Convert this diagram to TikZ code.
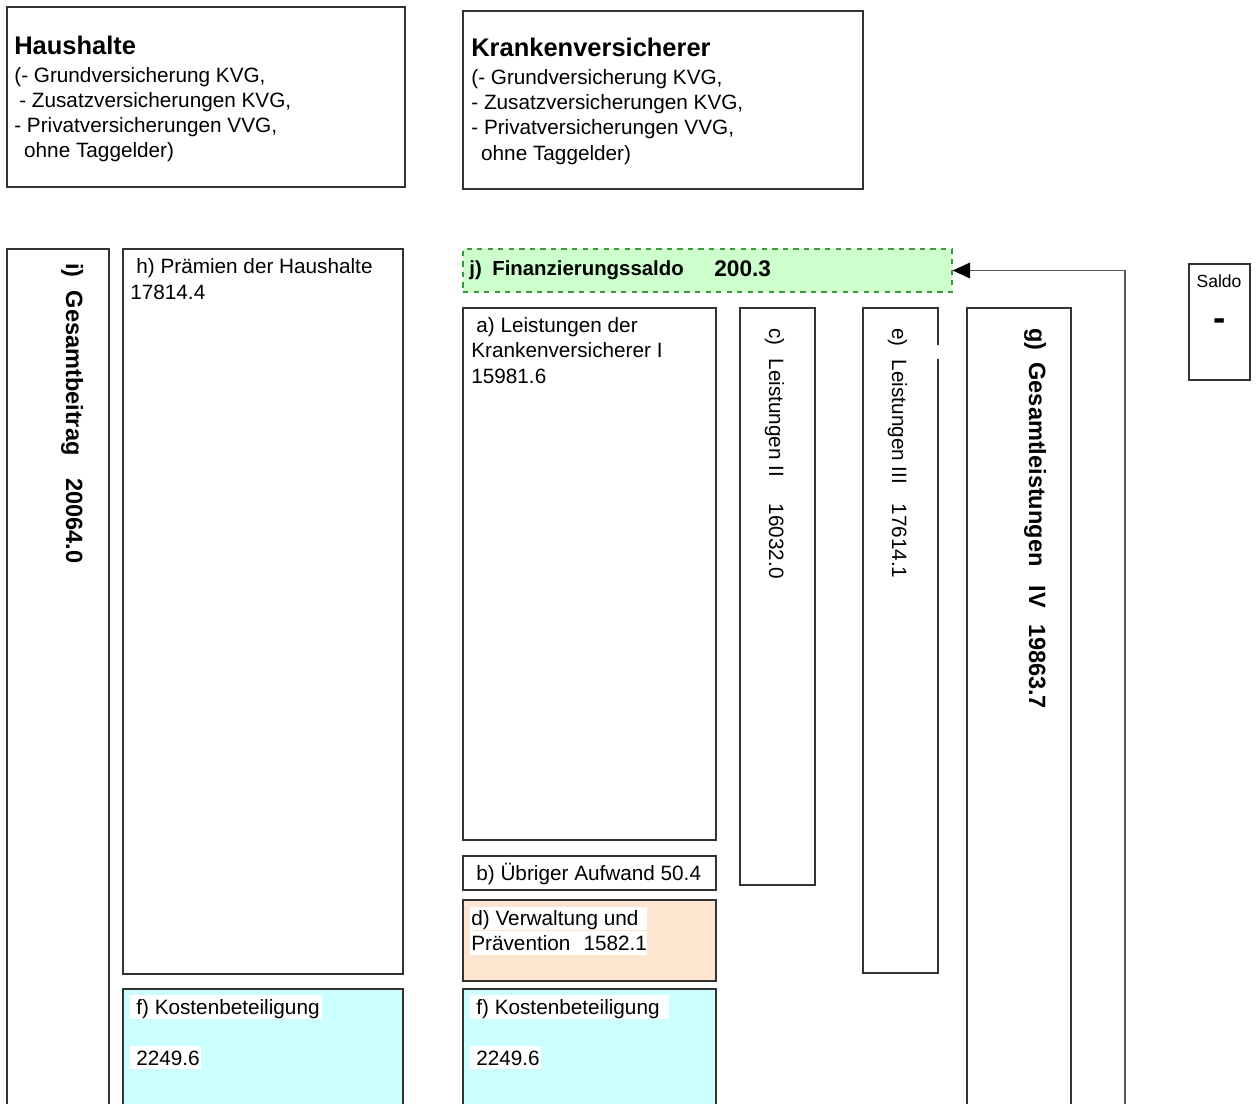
\documentclass[tikz,border=0pt]{standalone}
\usepackage{fontspec}
\setmainfont{Liberation Sans}
\usetikzlibrary{arrows.meta}
\definecolor{lgreen}{HTML}{CCFFCC}
\definecolor{dgreen}{HTML}{3A9A3A}
\definecolor{lcyan}{HTML}{CCFFFF}
\definecolor{peach}{HTML}{FDE5CF}
\definecolor{edge}{HTML}{333333}
\begin{document}
\begin{tikzpicture}[x=0.02cm,y=-0.02cm,
  box/.style={draw=edge, line width=0.8pt},
  txt/.style={anchor=base west, inner sep=0pt, font=\fontsize{11.8}{14}\selectfont},
  head/.style={anchor=base west, inner sep=0pt, font=\fontsize{14.5}{17}\selectfont\bfseries},
  vtxt/.style={anchor=base west, inner sep=0pt, rotate=-90, font=\fontsize{11.8}{14}\selectfont},
  vbold/.style={anchor=base west, inner sep=0pt, rotate=-90, font=\fontsize{13.4}{16}\selectfont\bfseries},
  wbg/.style={fill=white, draw=none},
  jbox/.style={draw=dgreen, dashed, line width=0.8pt, fill=lgreen, minimum width=9.78cm, minimum height=0.86cm, inner sep=0pt},
  conn/.style={draw=black!65, line width=0.7pt, -{Triangle[length=10pt,width=9pt,color=black,fill=black]}}
]
\useasboundingbox (0,0) rectangle (1258,1104);

% top boxes
\draw[box] (7,7) rectangle (405,187);
\node[head] (hh) at (14,55) {Haushalte};
\node[txt] (hh1) at (14,83) {(- Grundversicherung KVG,};
\node[txt] (hh2) at (14,108) {\hspace{2.8pt}- Zusatzversicherungen KVG,};
\node[txt] (hh3) at (14,133) {- Privatversicherungen VVG,};
\node[txt] (hh4) at (14,158) {\hspace{5.6pt}ohne Taggelder)};

\draw[box] (463,11) rectangle (863,189);
\node[head] (kv) at (471,57) {Krankenversicherer};
\node[txt] (kv1) at (471,85) {(- Grundversicherung KVG,};
\node[txt] (kv2) at (471,110) {- Zusatzversicherungen KVG,};
\node[txt] (kv3) at (471,135) {- Privatversicherungen VVG,};
\node[txt] (kv4) at (471,161) {\hspace{5.6pt}ohne Taggelder)};

% i) Gesamtbeitrag
\draw[box] (7,1110) -- (7,249) -- (109,249) -- (109,1110);
\node[vbold] (ii) at (66,263) {i)\hspace{7.4pt}Gesamtbeitrag\hspace{13pt}20064.0};

% h) Praemien
\draw[box] (123,249) rectangle (403,974);
\node[txt] (h1) at (136,274) {h) Prämien der Haushalte};
\node[txt] (h2) at (130,300) {17814.4};

% f) left
\draw[box, fill=lcyan] (123,1110) -- (123,989) -- (403,989) -- (403,1110);
\fill[wbg] (130,995) rectangle (322,1019);
\fill[wbg] (130,1046) rectangle (201,1069);
\node[txt] (fl1) at (136,1014) {f) Kostenbeteiligung};
\node[txt] (fl2) at (136,1065) {2249.6};

% j) Finanzierungssaldo
\node[jbox] (j) at (707.5,270.5) {};
\node[anchor=base west, inner sep=0pt, font=\fontsize{11.6}{14}\selectfont\bfseries] (jt) at (469,276) {j)\hspace{6pt}Finanzierungssaldo};
\node[anchor=base west, inner sep=0pt, font=\fontsize{12.9}{15}\selectfont\bfseries] (jv) at (714,277) {200.3};

% a) Leistungen I
\draw[box] (463,308) rectangle (716,840);
\node[txt] (a1) at (476,333) {a) Leistungen der};
\node[txt] (a2) at (471,358) {Krankenversicherer I};
\node[txt] (a3) at (471,384) {15981.6};

% b)
\draw[box] (463,856) rectangle (716,890);
\node[txt] (b1) at (476,880) {b) Übriger Aufwand 50.4};

% d)
\draw[box, fill=peach] (463,900) rectangle (716,981);
\fill[wbg] (470,907) rectangle (647,930);
\fill[wbg] (470,931) rectangle (647,955);
\node[txt] (d1) at (471,925) {d) Verwaltung und};
\node[txt] (d2) at (471,950) {Prävention\hspace{7.5pt}1582.1};

% f) right
\draw[box, fill=lcyan] (463,1110) -- (463,989) -- (716,989) -- (716,1110);
\fill[wbg] (470,995) rectangle (669,1019);
\fill[wbg] (470,1046) rectangle (541,1069);
\node[txt] (fr1) at (476,1014) {f) Kostenbeteiligung};
\node[txt] (fr2) at (476,1065) {2249.6};

% c)
\draw[box] (740,308) rectangle (815,885);
\node[vtxt] (c) at (769,328) {c)\hspace{7.4pt}Leistungen II\hspace{15pt}16032.0};

% e)
\draw[box] (863,308) rectangle (938,973);
\fill[wbg] (935,345) rectangle (942,359);
\node[vtxt] (e) at (892,328) {e)\hspace{7.4pt}Leistungen III\hspace{11pt}17614.1};

% g)
\draw[box] (967,1110) -- (967,308) -- (1071,308) -- (1071,1110);
\node[vbold] (g) at (1029,328) {g)\hspace{6.8pt}Gesamtleistungen\hspace{11pt}IV\hspace{9pt}19863.7};

% connector
\coordinate (cs) at (1125,1110);
\draw[conn] (cs) |- (j.east);

% Saldo
\draw[box, line width=0.6pt] (1189,264) rectangle (1250,380);
\node[inner sep=0pt, font=\fontsize{10}{12}\selectfont] (sl) at (1219,281) {Saldo};
\node[inner sep=0pt, font=\fontsize{21}{24}\selectfont\bfseries] (sm) at (1220,325) {-};
\end{tikzpicture}
\end{document}
